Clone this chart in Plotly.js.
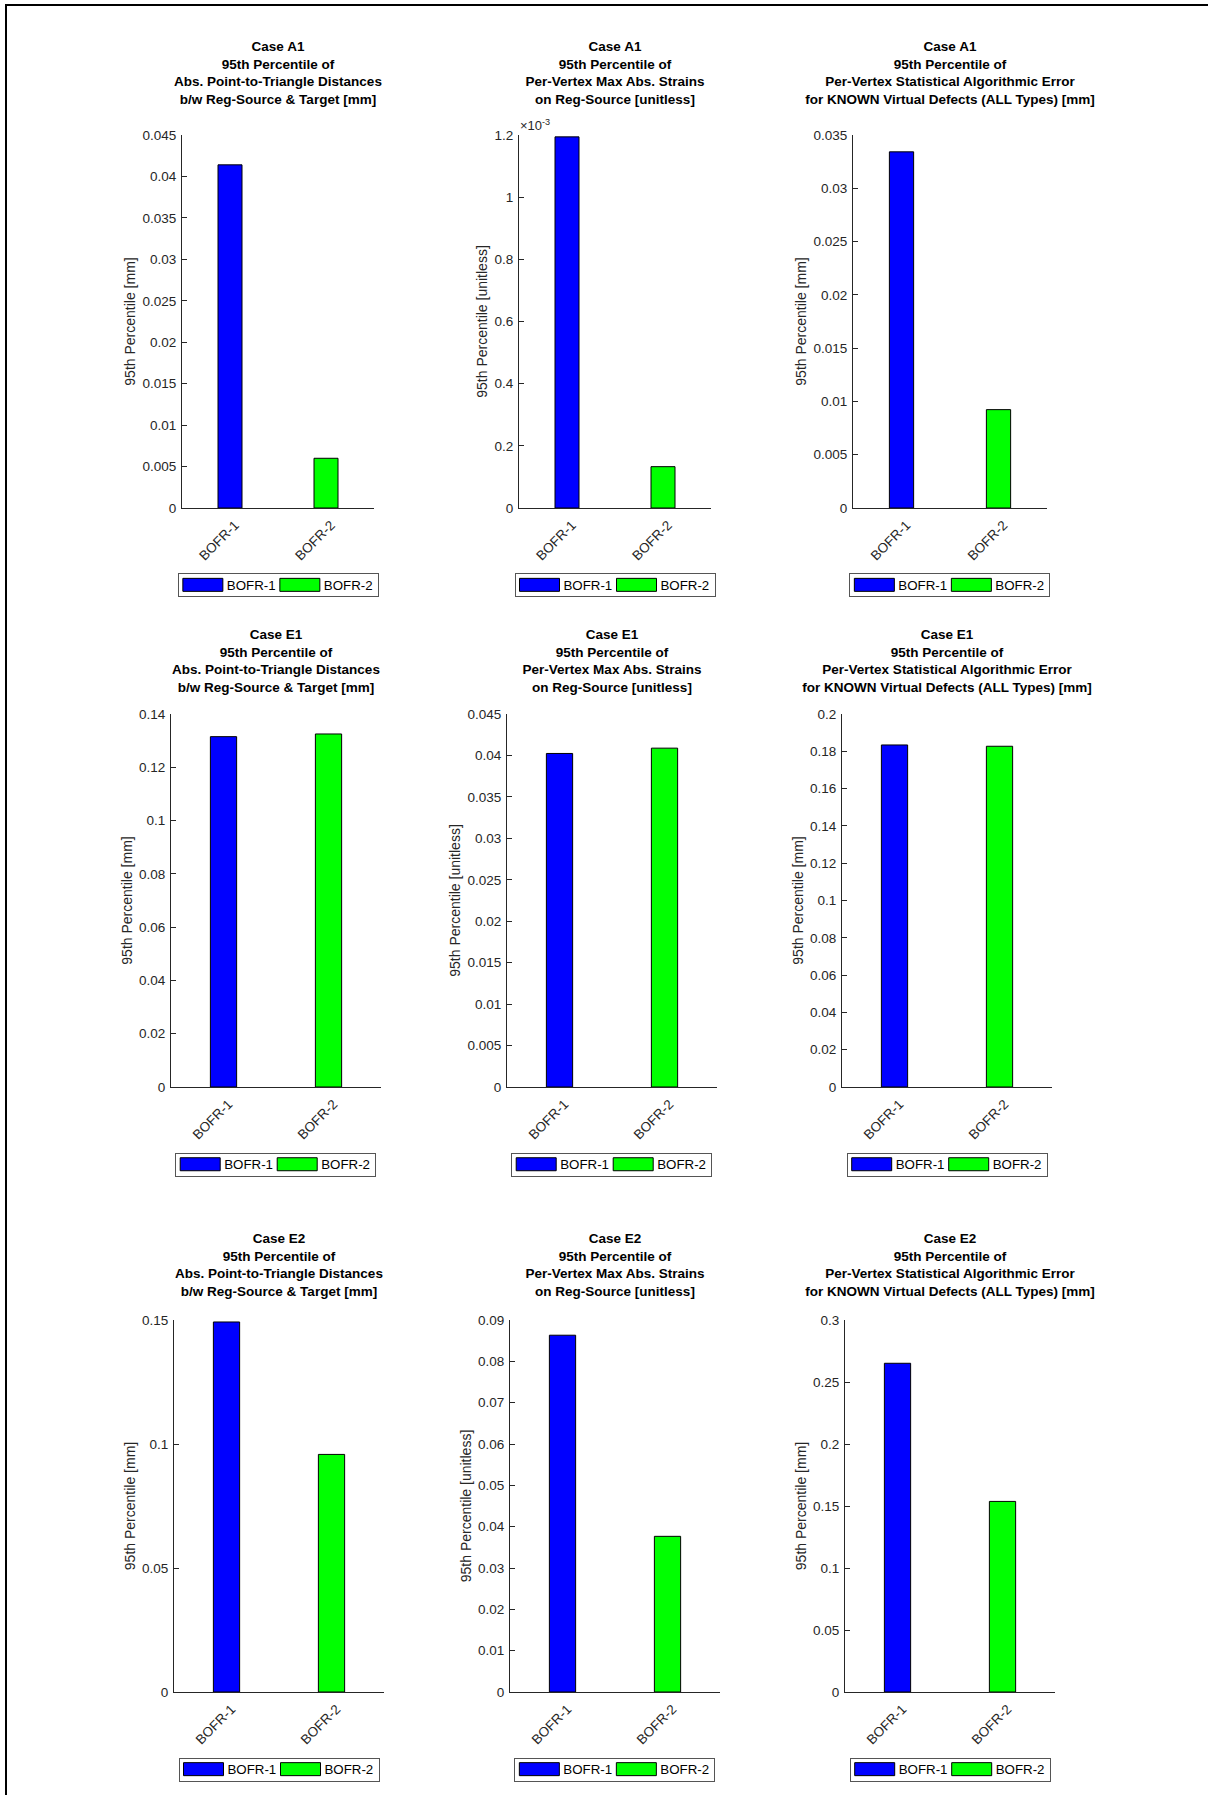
<!DOCTYPE html>
<html>
<head>
<meta charset="utf-8">
<script src="https://cdn.plot.ly/plotly-3.0.1.min.js"></script>
<style>
  html, body { margin: 0; padding: 0; background: #fff; }
  #page { position: relative; width: 1208px; height: 1795px; overflow: hidden; background: #fff; }
  #frame { position: absolute; left: 5px; top: 4px; right: -10px; bottom: -10px;
           border-top: 2px solid #000; border-left: 2px solid #000; }
  .panel { position: absolute; }
</style>
</head>
<body>
<div id="page"><div id="frame"></div></div>
<script>
// ---- data ----------------------------------------------------------------
const categories = ['BOFR-1', 'BOFR-2'];
const caseLabels = ['Case A1', 'Case E1', 'Case E2'];

const metricTitles = [
  '95th Percentile of<br>Abs. Point-to-Triangle Distances<br>b/w Reg-Source &amp; Target [mm]',
  '95th Percentile of<br>Per-Vertex Max Abs. Strains<br>on Reg-Source [unitless]',
  '95th Percentile of<br>Per-Vertex Statistical Algorithmic Error<br>for KNOWN Virtual Defects (ALL Types) [mm]'
];
const yAxisTitles = ['95th Percentile [mm]', '95th Percentile [unitless]', '95th Percentile [mm]'];

// 95th percentile values, one row per case (A1, E1, E2): [BOFR-1, BOFR-2]
const distValues   = [[0.0414, 0.0060], [0.1315, 0.1325], [0.1492, 0.0958]];
const strainValues = [[0.001194, 0.000133], [0.04024, 0.04088], [0.08632, 0.03766]];
const errorValues  = [[0.03342, 0.00923], [0.1834, 0.1827], [0.2651, 0.1537]];

// y tick labels per case
const distTicks = [
  ['0', '0.005', '0.01', '0.015', '0.02', '0.025', '0.03', '0.035', '0.04', '0.045'],
  ['0', '0.02', '0.04', '0.06', '0.08', '0.1', '0.12', '0.14'],
  ['0', '0.05', '0.1', '0.15']
];
const strainTicks = [
  ['0', '0.2', '0.4', '0.6', '0.8', '1', '1.2'],
  ['0', '0.005', '0.01', '0.015', '0.02', '0.025', '0.03', '0.035', '0.04', '0.045'],
  ['0', '0.01', '0.02', '0.03', '0.04', '0.05', '0.06', '0.07', '0.08', '0.09']
];
const errorTicks = [
  ['0', '0.005', '0.01', '0.015', '0.02', '0.025', '0.03', '0.035'],
  ['0', '0.02', '0.04', '0.06', '0.08', '0.1', '0.12', '0.14', '0.16', '0.18', '0.2'],
  ['0', '0.05', '0.1', '0.15', '0.2', '0.25', '0.3']
];
// tick-label exponent per case for the strain panels (A1 is shown as x10^-3)
const strainTickExponent = [-3, 0, 0];

// ---- appearance ------------------------------------------------------------
const FONT = 'Liberation Sans, Arial, Helvetica, sans-serif';
const INK = '#262626';
const barColors = ['#0000ff', '#00ff00'];

// page geometry of each row of axes (px)
const rowGeom = [
  { title: 45.8,   top: 134.7,  bottom: 507.8,  legend: 573.0,
    left: [182.3, 518.7, 853.0], right: [375.0, 710.7, 1046.7] },
  { title: 634.4,  top: 714.4,  bottom: 1087.1, legend: 1153.0,
    left: [171.3, 507.3, 842.3], right: [380.7, 716.7, 1052.7] },
  { title: 1238.3, top: 1319.9, bottom: 1691.8, legend: 1757.8,
    left: [174.0, 510.3, 845.3], right: [384.0, 720.0, 1055.7] }
];

const metrics = [
  { values: distValues,   ticks: distTicks,   exponent: [0, 0, 0] },
  { values: strainValues, ticks: strainTicks, exponent: strainTickExponent },
  { values: errorValues,  ticks: errorTicks,  exponent: [0, 0, 0] }
];

const page = document.getElementById('page');
const LEGEND_W = 200;
const LEGEND_H = 23;

function parseTranslate(s) {
  const m = /translate\(\s*([-\d.e]+)[ ,]+([-\d.e]+)\s*\)/.exec(s || '');
  return m ? [parseFloat(m[1]), parseFloat(m[2])] : [0, 0];
}

function tidyLegend(gd) {
  const lg = gd.querySelector('g.legend');
  if (!lg) return;
  // wide rectangular swatches
  lg.querySelectorAll('.legendpoints path').forEach(p => {
    p.setAttribute('d', 'M20,6.5H-20V-6.5H20Z');
  });
  const bg = lg.querySelector('rect.bg');
  const sb = lg.querySelector('.scrollbox');
  if (!bg || !sb) return;
  const w0 = parseFloat(bg.getAttribute('width'));
  const h0 = parseFloat(bg.getAttribute('height'));
  // fixed box size, kept centred on the same point
  bg.setAttribute('width', LEGEND_W);
  bg.setAttribute('height', LEGEND_H);
  sb.setAttribute('transform', 'translate(0,' + (-(h0 - LEGEND_H) / 2) + ')');
  const t = parseTranslate(lg.getAttribute('transform'));
  lg.setAttribute('transform', 'translate(' + (t[0] - (LEGEND_W - w0) / 2) + ',' + t[1] + ')');
  const clip = sb.getAttribute('clip-path');
  if (clip) {
    const id = /#([^)'"]+)/.exec(clip);
    const cr = id && gd.ownerDocument.getElementById(id[1]);
    const rect = cr && cr.querySelector('rect');
    if (rect) { rect.setAttribute('width', LEGEND_W + 20); rect.setAttribute('height', h0 + 20); }
  }
}

function drawPanel(row, col) {
  const g = rowGeom[row];
  const L = g.left[col], R = g.right[col], T = g.top, B = g.bottom;
  const center = (L + R) / 2;
  const divL = Math.min(L - 100, center - 180);
  const divR = Math.max(R + 20, center + 180);
  const divT = g.title - 30;
  const divB = Math.min(g.legend + 36, 1795);
  const W = divR - divL, H = divB - divT;

  const div = document.createElement('div');
  div.className = 'panel';
  div.style.left = divL + 'px';
  div.style.top = divT + 'px';
  div.style.width = W + 'px';
  div.style.height = H + 'px';
  page.appendChild(div);

  const m = metrics[col];
  const vals = m.values[row];
  const labels = m.ticks[row];
  const scale = Math.pow(10, m.exponent[row]);
  const tickvals = labels.map(s => Number(s) * scale);

  const traces = categories.map((c, i) => ({
    type: 'bar',
    x: [c],
    y: [vals[i]],
    name: c,
    width: 0.25,
    marker: { color: barColors[i], line: { color: '#000', width: 1 } },
    hoverinfo: 'skip'
  }));

  const annotations = [];
  if (m.exponent[row] !== 0) {
    annotations.push({
      text: '\u00d710<sup>' + m.exponent[row] + '</sup>',
      xref: 'paper', yref: 'paper', x: 0, y: 1,
      xanchor: 'left', yanchor: 'bottom', xshift: -1, yshift: 0,
      showarrow: false, font: { family: FONT, size: 13, color: INK }
    });
  }

  const layout = {
    width: W, height: H,
    margin: { l: L - divL, r: divR - R, t: T - divT, b: divB - B, pad: 0 },
    paper_bgcolor: 'rgba(0,0,0,0)',
    plot_bgcolor: 'rgba(0,0,0,0)',
    font: { family: FONT, size: 13, color: INK },
    title: {
      text: caseLabels[row] + '<br>' + metricTitles[col],
      font: { family: FONT, size: 13.5, color: '#000', weight: 'bold' },
      x: 0.5, xref: 'paper', xanchor: 'center',
      y: 1 - (g.title + 5.1 - divT) / H, yref: 'container', yanchor: 'top',
      pad: { t: 0, b: 0, l: 0, r: 0 }
    },
    barmode: 'overlay',
    showlegend: true,
    legend: {
      orientation: 'h',
      x: (center - divL) / W, xanchor: 'center', xref: 'container',
      y: 1 - (g.legend - divT) / H, yanchor: 'top', yref: 'container',
      bgcolor: '#fff', bordercolor: '#555', borderwidth: 1,
      font: { family: FONT, size: 13.3, color: '#000' },
      itemwidth: 38, entrywidth: 44, entrywidthmode: 'pixels',
      itemclick: false, itemdoubleclick: false,
      traceorder: 'normal'
    },
    xaxis: {
      type: 'category', categoryorder: 'array', categoryarray: categories,
      range: [-0.5, 1.5], fixedrange: true, automargin: false,
      showline: true, linecolor: INK, linewidth: 1,
      ticks: '', tickangle: -45, ticklabelstandoff: 3, ticklabelshift: 5,
      tickfont: { family: FONT, size: 13.5, color: INK },
      showgrid: false, zeroline: false
    },
    yaxis: {
      range: [0, tickvals[tickvals.length - 1]], fixedrange: true, automargin: false,
      tickmode: 'array', tickvals: tickvals, ticktext: labels,
      ticks: 'inside', ticklen: 4.5, tickwidth: 1, tickcolor: INK,
      ticklabelstandoff: 2,
      showline: true, linecolor: INK, linewidth: 1,
      tickfont: { family: FONT, size: 13.5, color: INK },
      showgrid: false, zeroline: false,
      title: { text: yAxisTitles[col], font: { family: FONT, size: 14, color: INK }, standoff: 3 }
    },
    annotations: annotations
  };

  return Plotly.newPlot(div, traces, layout, { staticPlot: true, displayModeBar: false })
    .then(tidyLegend);
}

for (let r = 0; r < 3; r++) {
  for (let c = 0; c < 3; c++) drawPanel(r, c);
}
</script>
</body>
</html>
